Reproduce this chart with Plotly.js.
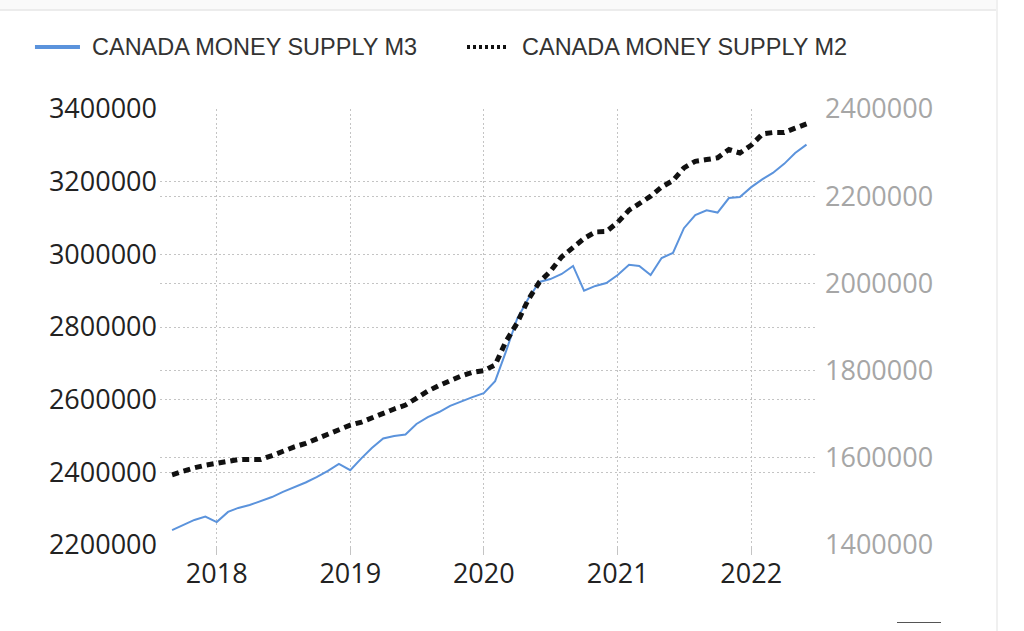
<!DOCTYPE html>
<html>
<head>
<meta charset="utf-8">
<script src="https://cdn.plot.ly/plotly-3.0.1.min.js"></script>
<style>
  html, body { margin:0; padding:0; background:#ffffff; width:1024px; height:631px; overflow:hidden; }
  #chart { position:absolute; left:0; top:0; width:1024px; height:631px; }
  .topband { position:absolute; left:0; top:0; width:997px; height:9px; background:#fafafa; border-bottom:2px solid #ececec; }
  .rightline { position:absolute; left:996px; top:0; width:2px; height:631px; background:#f0f0f0; }
  .smalldash { position:absolute; left:897px; top:622px; width:44px; height:1px; background:#555; }
</style>
</head>
<body>
<div id="chart"></div>
<div class="topband"></div>
<div class="rightline"></div>
<div class="smalldash"></div>
<script>
// Monthly observations (first of month)
const months = [
  '2017-09-01','2017-10-01','2017-11-01','2017-12-01',
  '2018-01-01','2018-02-01','2018-03-01','2018-04-01','2018-05-01','2018-06-01',
  '2018-07-01','2018-08-01','2018-09-01','2018-10-01','2018-11-01','2018-12-01',
  '2019-01-01','2019-02-01','2019-03-01','2019-04-01','2019-05-01','2019-06-01',
  '2019-07-01','2019-08-01','2019-09-01','2019-10-01','2019-11-01','2019-12-01',
  '2020-01-01','2020-02-01','2020-03-01','2020-04-01','2020-05-01','2020-06-01',
  '2020-07-01','2020-08-01','2020-09-01','2020-10-01','2020-11-01','2020-12-01',
  '2021-01-01','2021-02-01','2021-03-01','2021-04-01','2021-05-01','2021-06-01',
  '2021-07-01','2021-08-01','2021-09-01','2021-10-01','2021-11-01','2021-12-01',
  '2022-01-01','2022-02-01','2022-03-01','2022-04-01','2022-05-01','2022-06-01'
];

// Canada Money Supply M3 (left axis)
const m3 = [
  2241000, 2255000, 2269000, 2278000,
  2263000, 2291000, 2302000, 2310000, 2320000, 2332000,
  2346000, 2358000, 2372000, 2387000, 2404000, 2423000,
  2406000, 2439000, 2467000, 2493000, 2500000, 2504000,
  2533000, 2552000, 2566000, 2583000, 2596000, 2607000,
  2618000, 2651000, 2731000, 2822000, 2877000, 2924000,
  2932000, 2946000, 2968000, 2900000, 2913000, 2921000,
  2943000, 2971000, 2968000, 2943000, 2990000, 3004000,
  3072000, 3108000, 3121000, 3115000, 3155000, 3158000,
  3185000, 3207000, 3224000, 3249000, 3279000, 3302000
];

// Canada Money Supply M2 (right axis)
const m2 = [
  1561000, 1570000, 1577000, 1583000,
  1588000, 1593000, 1596000, 1596000, 1596000, 1605000,
  1616000, 1625000, 1633000, 1643000, 1655000, 1665000,
  1675000, 1682000, 1692000, 1704000, 1712000, 1721000,
  1737000, 1753000, 1766000, 1778000, 1788000, 1796000,
  1800000, 1813000, 1866000, 1909000, 1962000, 2003000,
  2028000, 2061000, 2083000, 2103000, 2118000, 2119000,
  2140000, 2168000, 2183000, 2200000, 2221000, 2236000,
  2265000, 2280000, 2284000, 2288000, 2307000, 2299000,
  2317000, 2343000, 2346000, 2346000, 2356000, 2366000
];

const seriesNames = ['CANADA MONEY SUPPLY M3', 'CANADA MONEY SUPPLY M2'];
const seriesColors = ['#5b93dc', '#111111'];
const xTickVals = ['2018-01-01','2019-01-01','2020-01-01','2021-01-01','2022-01-01'];
const xTickText = ['2018','2019','2020','2021','2022'];
const yLeftTicks = [2200000, 2400000, 2600000, 2800000, 3000000, 3200000, 3400000];
const yRightTicks = [1400000, 1600000, 1800000, 2000000, 2200000, 2400000];

const m2Dash = '7px,5px';

const traces = [
  {
    x: months, y: m3, name: seriesNames[0], type: 'scatter', mode: 'lines',
    yaxis: 'y', line: { color: seriesColors[0], width: 2 }, hoverinfo: 'skip', showlegend: false
  },
  {
    x: months, y: m2, name: seriesNames[1], type: 'scatter', mode: 'lines',
    yaxis: 'y2', line: { color: seriesColors[1], width: 5, dash: m2Dash }, hoverinfo: 'skip', showlegend: false
  }
];

// Legend drawn as paper-referenced keys + labels (top, horizontal)
const legendFont = { family: 'Liberation Sans, Arial, sans-serif', size: 23.5, color: '#333333' };
const legendY = 1.142;
const shapes = [
  { type: 'line', xref: 'paper', yref: 'paper', x0: -0.1906, x1: -0.1220, y0: legendY, y1: legendY,
    line: { color: seriesColors[0], width: 4 } },
  { type: 'line', xref: 'paper', yref: 'paper', x0: 0.4680, x1: 0.5305, y0: legendY, y1: legendY,
    line: { color: seriesColors[1], width: 4, dash: '3px,3px' } }
];
const annotations = [
  { xref: 'paper', yref: 'paper', x: -0.1067, y: legendY, xanchor: 'left', yanchor: 'middle',
    text: seriesNames[0], showarrow: false, font: legendFont },
  { xref: 'paper', yref: 'paper', x: 0.5488, y: legendY, xanchor: 'left', yanchor: 'middle',
    text: seriesNames[1], showarrow: false, font: legendFont }
];

const gridCol = '#c4c4c4';
const gridDash = '2px,2.5px';
const tickFont = { family: 'Open Sans, sans-serif', size: 27, color: '#222222' };
const layout = {
  width: 1024, height: 631,
  margin: { l: 160, r: 208, t: 109, b: 86, pad: 0 },
  paper_bgcolor: 'rgba(0,0,0,0)', plot_bgcolor: 'rgba(0,0,0,0)',
  showlegend: false,
  shapes: shapes,
  annotations: annotations,
  xaxis: {
    type: 'date', range: ['2017-07-30', '2022-06-27'],
    tickmode: 'array', tickvals: xTickVals, ticktext: xTickText,
    showgrid: true, gridcolor: gridCol, griddash: gridDash, gridwidth: 1,
    ticks: 'outside', ticklen: 9, tickcolor: gridCol, tickwidth: 1,
    ticklabelstandoff: -4,
    tickfont: tickFont,
    showline: false, zeroline: false, fixedrange: true
  },
  yaxis: {
    range: [2200000, 3400000], tickmode: 'array', tickvals: yLeftTicks,
    tickformat: 'd',
    showgrid: true, gridcolor: gridCol, griddash: gridDash, gridwidth: 1,
    ticks: '', ticklabelstandoff: 2,
    tickfont: tickFont,
    showline: false, zeroline: false, fixedrange: true
  },
  yaxis2: {
    overlaying: 'y', side: 'right',
    range: [1400000, 2400000], tickmode: 'array', tickvals: yRightTicks,
    tickformat: 'd',
    showgrid: true, gridcolor: gridCol, griddash: gridDash, gridwidth: 1,
    ticks: '', ticklabelstandoff: 8,
    tickfont: { family: 'Open Sans, sans-serif', size: 27, color: '#a6a6a6' },
    showline: false, zeroline: false, fixedrange: true
  }
};

Plotly.newPlot('chart', traces, layout, { displayModeBar: false, staticPlot: true });
</script>
</body>
</html>
